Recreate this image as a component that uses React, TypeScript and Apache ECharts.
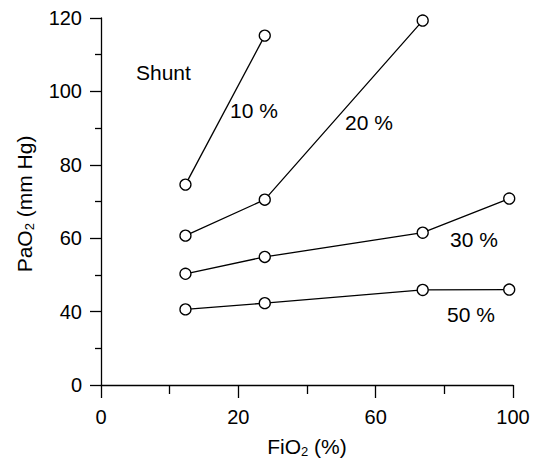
import React, { useEffect, useRef } from "react";
import * as echarts from "echarts";

// x positions on the drawn (equal-spaced) axis scale 0..120, whose ticks are labelled 0, 20, 60, 100
const xPositions = [24.6, 47.7, 93.7, 118.9];
const xTickLabels = ["0", "20", "60", "100"];
// y axis drawn from 20..120, the bottom tick labelled "0" (broken axis)
const yTickLabels = ["0", "40", "60", "80", "100", "120"];

const shunt10 = [74.6, 115.2];
const shunt20 = [60.7, 70.5, 119.3];
const shunt30 = [50.3, 54.9, 61.5, 70.8];
const shunt50 = [40.6, 42.3, 45.9, 46.0];

const seriesNames = ["10 %", "20 %", "30 %", "50 %"];
const seriesValues = [shunt10, shunt20, shunt30, shunt50];

const FONT = "'Liberation Sans', Arial, Helvetica, sans-serif";

export default function App() {
  const ref = useRef<HTMLDivElement>(null);
  useEffect(() => {
    if (!ref.current) return;
    const chart = echarts.init(ref.current, undefined, { renderer: "svg" });
    const series = seriesValues.map((vals, i) => ({
      name: seriesNames[i],
      type: "line",
      data: vals.map((v, j) => [xPositions[j], v]),
      symbol: "circle",
      symbolSize: 11,
      showAllSymbol: true,
      lineStyle: { color: "#000", width: 1.3 },
      itemStyle: { color: "#fff", borderColor: "#000", borderWidth: 1.3 },
      z: 3,
    }));
    chart.setOption({
      animation: false,
      backgroundColor: "#fff",
      grid: { left: 101, right: 25, top: 18, bottom: 75, containLabel: false, outerBoundsMode: "none" },
      xAxis: {
        type: "value",
        min: 0,
        max: 120,
        interval: 40,
        axisLine: { lineStyle: { color: "#000", width: 1.3 } },
        axisTick: { length: 13, lineStyle: { color: "#000", width: 1.3 } },
        minorTick: { show: true, splitNumber: 2, length: 9, lineStyle: { color: "#000", width: 1.3 } },
        splitLine: { show: false },
        axisLabel: {
          color: "#000",
          fontFamily: FONT,
          fontSize: 20,
          margin: 22,
          formatter: (v: number) => xTickLabels[Math.round(v / 40)] ?? "",
        },
      },
      yAxis: {
        type: "value",
        min: 20,
        max: 120,
        interval: 20,
        axisLine: { show: true, lineStyle: { color: "#000", width: 1.3 } },
        axisTick: { show: true, length: 11, lineStyle: { color: "#000", width: 1.3 } },
        minorTick: { show: true, splitNumber: 2, length: 6, lineStyle: { color: "#000", width: 1.3 } },
        splitLine: { show: false },
        axisLabel: {
          color: "#000",
          fontFamily: FONT,
          fontSize: 20,
          margin: 19,
          formatter: (v: number) => yTickLabels[Math.round((v - 20) / 20)] ?? "",
        },
      },
      graphic: [
        {
          type: "text",
          x: 307,
          y: 446,
          style: {
            text: "{a|FiO}{s|2}{a| (%)}",
            align: "center",
            verticalAlign: "middle",
            rich: {
              a: { fontFamily: FONT, fontSize: 21, fill: "#000" },
              s: { fontFamily: FONT, fontSize: 13, fill: "#000", padding: [10, 0, 0, 0] },
            },
          },
        },
        {
          type: "text",
          x: 24,
          y: 204,
          rotation: Math.PI / 2,
          style: {
            text: "{a|PaO}{s|2}{a| (mm Hg)}",
            align: "center",
            verticalAlign: "middle",
            rich: {
              a: { fontFamily: FONT, fontSize: 21, fill: "#000" },
              s: { fontFamily: FONT, fontSize: 13, fill: "#000", padding: [10, 0, 0, 0] },
            },
          },
        },
        { type: "text", x: 136, y: 72, style: { text: "Shunt", fontFamily: FONT, fontSize: 21, fill: "#000", verticalAlign: "middle" } },
        { type: "text", x: 230, y: 110, style: { text: "10 %", fontFamily: FONT, fontSize: 21, fill: "#000", verticalAlign: "middle" } },
        { type: "text", x: 345, y: 122, style: { text: "20 %", fontFamily: FONT, fontSize: 21, fill: "#000", verticalAlign: "middle" } },
        { type: "text", x: 450, y: 239, style: { text: "30 %", fontFamily: FONT, fontSize: 21, fill: "#000", verticalAlign: "middle" } },
        { type: "text", x: 447, y: 314, style: { text: "50 %", fontFamily: FONT, fontSize: 21, fill: "#000", verticalAlign: "middle" } },
      ],
      series,
    });
    return () => chart.dispose();
  }, []);
  return <div ref={ref} style={{ width: 538, height: 460, position: "absolute", left: 0, top: 0 }} />;
}
